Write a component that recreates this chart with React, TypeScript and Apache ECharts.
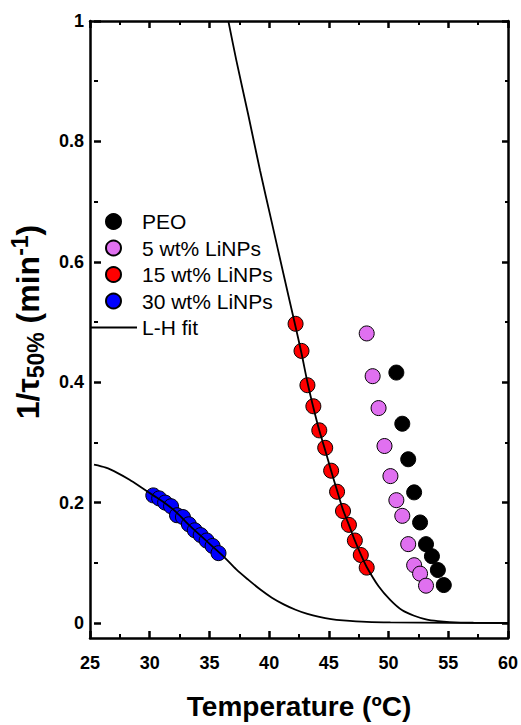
import React, { useEffect, useRef } from 'react';
import * as echarts from 'echarts';

const FONT = '"Liberation Sans", Arial, Helvetica, sans-serif';

// Scatter data (temperature in ºC, 1/tau50% in 1/min)
const peoT = [50.5, 51, 51.5, 52, 52.5, 53, 53.5, 54, 54.5];
const peoV = [0.416, 0.331, 0.272, 0.217, 0.167, 0.131, 0.111, 0.088, 0.063];

const np5T = [48, 48.5, 49, 49.5, 50, 50.5, 51, 51.5, 52, 52.5, 53];
const np5V = [0.481, 0.41, 0.357, 0.294, 0.244, 0.204, 0.178, 0.131, 0.096, 0.082, 0.062];

const np15T = [42, 42.5, 43, 43.5, 44, 44.5, 45, 45.5, 46, 46.5, 47, 47.5, 48];
const np15V = [0.497, 0.452, 0.395, 0.36, 0.32, 0.291, 0.253, 0.218, 0.186, 0.163, 0.137, 0.113, 0.092];

const np30T = [30, 30.5, 31, 31.5, 32, 32.5, 33, 33.5, 34, 34.5, 35, 35.5];
const np30V = [0.212, 0.207, 0.2, 0.194, 0.179, 0.176, 0.164, 0.154, 0.146, 0.137, 0.128, 0.116];

// L-H fit curves
const fit15T = [36.33, 37, 38, 39, 40, 41, 42, 42.5, 43, 43.5, 44, 44.5, 45, 45.5, 46, 46.5, 47, 47.5, 48, 49, 50, 51, 52, 53, 54, 55, 57, 60];
const fit15V = [1.0, 0.935, 0.845, 0.752, 0.665, 0.578, 0.492, 0.448, 0.4, 0.358, 0.32, 0.287, 0.253, 0.22, 0.188, 0.163, 0.137, 0.114, 0.093, 0.061, 0.038, 0.021, 0.012, 0.006, 0.003, 0.0015, 0.0004, 0];

const fit30T = [25, 26, 27, 28, 29, 30, 31, 32, 33, 34, 35, 36, 37, 38, 39, 40, 41, 42, 43, 44, 45, 46, 48, 50, 55, 60];
const fit30V = [0.263, 0.258, 0.249, 0.238, 0.225, 0.212, 0.199, 0.183, 0.163, 0.145, 0.127, 0.109, 0.089, 0.072, 0.056, 0.042, 0.031, 0.022, 0.015, 0.01, 0.0065, 0.0045, 0.002, 0.001, 0.0003, 0];

const legendNames = ['PEO', '5 wt% LiNPs', '15 wt% LiNPs', '30 wt% LiNPs', 'L-H fit'];
const colors = ['#000000', '#E070F0', '#FF0000', '#0000FF'];

const pairs = (xs: number[], ys: number[]) => xs.map((x, i) => [x, ys[i]]);

const axisLineStyle = { color: '#000', width: 2.5 };
const tickStyle = { show: true, inside: true, length: 7, lineStyle: { color: '#000', width: 2.5 } };
const minorStyle = { show: true, splitNumber: 2, length: 4, lineStyle: { color: '#000', width: 2 } };
const labelStyle = { fontSize: 18, fontWeight: 'bold', color: '#000', fontFamily: FONT, margin: 10 };

export default function App() {
  const ref = useRef<HTMLDivElement>(null);
  useEffect(() => {
    const chart = echarts.init(ref.current!, null, { renderer: 'svg' });
    const scatter = (name: string, xs: number[], ys: number[], color: string) => ({
      type: 'scatter',
      name,
      xAxisIndex: 2,
      yAxisIndex: 2,
      data: pairs(xs, ys),
      symbol: 'circle',
      symbolSize: 15,
      clip: false,
      z: 2,
      itemStyle: { color, borderColor: '#000', borderWidth: 1, opacity: 1 },
    });
    const fit = (xs: number[], ys: number[]) => ({
      type: 'line',
      name: 'L-H fit',
      xAxisIndex: 2,
      yAxisIndex: 2,
      data: pairs(xs, ys),
      symbol: 'none',
      smooth: 0.3,
      clip: false,
      z: 3,
      itemStyle: { color: '#000' },
      lineStyle: { color: '#000', width: 1.8 },
    });
    const option: any = {
      animation: false,
      backgroundColor: '#fff',
      grid: [
        { left: 90, right: 12, top: 21, bottom: 73 },
        { left: 90, right: 12, top: 21, height: 602 },
      ],
      legend: {
        orient: 'vertical',
        left: 90,
        top: 211,
        padding: 0,
        itemWidth: 47,
        itemHeight: 15,
        itemGap: 5.5,
        selectedMode: false,
        textStyle: { fontSize: 21, fontFamily: FONT, color: '#000' },
        data: [
          { name: legendNames[0], icon: 'circle' },
          { name: legendNames[1], icon: 'circle' },
          { name: legendNames[2], icon: 'circle' },
          { name: legendNames[3], icon: 'circle' },
          { name: legendNames[4], icon: 'path://M0 0H47V2H0Z', itemStyle: { color: '#000', borderWidth: 0 } },
        ],
      },
      xAxis: [
        {
          gridIndex: 0, type: 'value', min: 25, max: 60, interval: 5, position: 'bottom',
          axisLine: { show: true, onZero: false, lineStyle: axisLineStyle },
          axisTick: tickStyle, minorTick: minorStyle, axisLabel: { ...labelStyle, margin: 16 },
          splitLine: { show: false },
          name: 'Temperature (ºC)', nameLocation: 'middle', nameGap: 54,
          nameTextStyle: { fontSize: 28, fontWeight: 'bold', color: '#000', fontFamily: FONT },
        },
        {
          gridIndex: 0, type: 'value', min: 25, max: 60, interval: 5, position: 'top',
          axisLine: { show: true, onZero: false, lineStyle: axisLineStyle },
          axisTick: tickStyle, minorTick: minorStyle, axisLabel: { show: false },
          splitLine: { show: false },
        },
        { gridIndex: 1, type: 'value', min: 25, max: 60, show: false },
      ],
      yAxis: [
        {
          gridIndex: 0, type: 'value', min: -0.05, max: 1, position: 'left',
          axisLine: { show: true, onZero: false, lineStyle: axisLineStyle },
          axisTick: { show: false }, axisLabel: { show: false }, splitLine: { show: false },
        },
        {
          gridIndex: 0, type: 'value', min: -0.05, max: 1, position: 'right',
          axisLine: { show: true, onZero: false, lineStyle: axisLineStyle },
          axisTick: { show: false }, axisLabel: { show: false }, splitLine: { show: false },
        },
        {
          gridIndex: 1, type: 'value', min: 0, max: 1, interval: 0.2, position: 'left',
          axisLine: { show: false, onZero: false },
          axisTick: tickStyle, minorTick: minorStyle, axisLabel: labelStyle,
          splitLine: { show: false },
          name: '{m|1/τ}{s|50%}{m| (min}{p|-1}{m|)}',
          nameLocation: 'middle', nameRotate: 90, nameGap: 47,
          nameTextStyle: {
            fontSize: 32, fontWeight: 'bold', color: '#000', fontFamily: FONT,
            rich: {
              m: { fontSize: 32, fontWeight: 'bold', color: '#000', fontFamily: FONT, lineHeight: 39 },
              s: { fontSize: 23, fontWeight: 'bold', color: '#000', fontFamily: FONT, lineHeight: 23, verticalAlign: 'bottom' },
              p: { fontSize: 23, fontWeight: 'bold', color: '#000', fontFamily: FONT, lineHeight: 23, verticalAlign: 'top' },
            },
          },
        },
        {
          gridIndex: 1, type: 'value', min: 0, max: 1, interval: 0.2, position: 'right',
          axisLine: { show: false, onZero: false },
          axisTick: tickStyle, minorTick: minorStyle, axisLabel: { show: false },
          splitLine: { show: false },
        },
      ],
      series: [
        scatter(legendNames[0], peoT, peoV, colors[0]),
        scatter(legendNames[1], np5T, np5V, colors[1]),
        scatter(legendNames[2], np15T, np15V, colors[2]),
        scatter(legendNames[3], np30T, np30V, colors[3]),
        fit(fit15T, fit15V),
        fit(fit30T, fit30V),
      ],
    };
    chart.setOption(option);
    return () => chart.dispose();
  }, []);
  return <div ref={ref} style={{ position: 'fixed', left: 0, top: 0, width: 521, height: 725 }} />;
}
